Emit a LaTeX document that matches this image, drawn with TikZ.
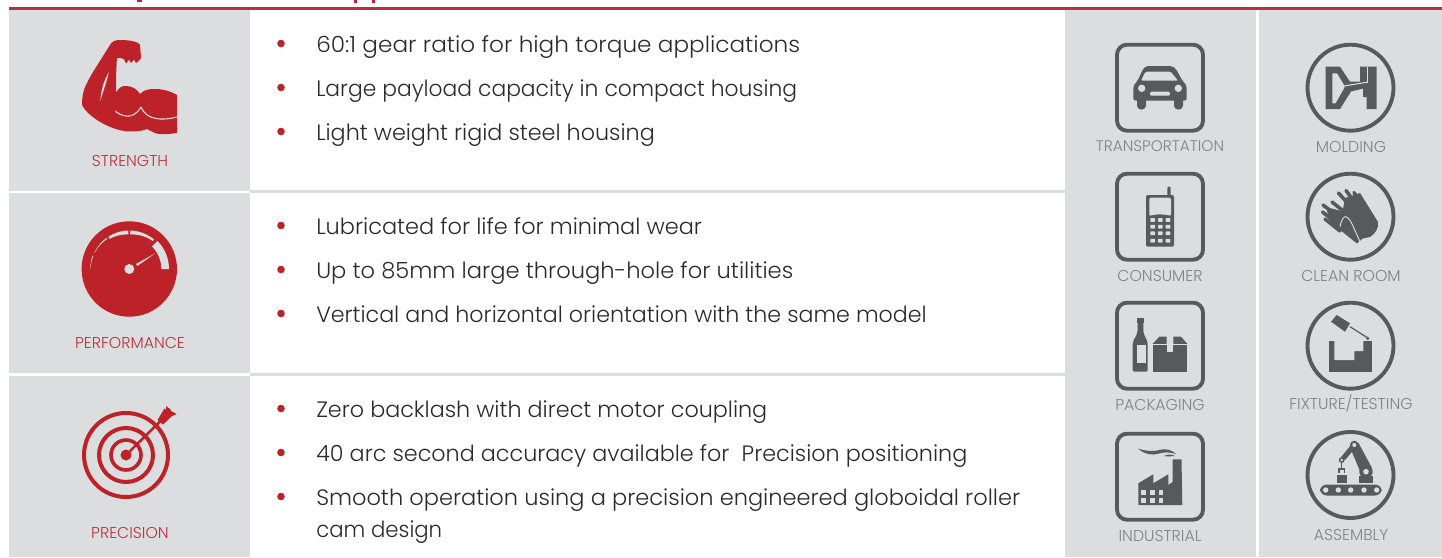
\documentclass[tikz,border=0pt]{standalone}
\usepackage{fontspec}
\usepackage{graphicx}
\setmainfont{Poppins Light}
\definecolor{panel}{HTML}{DCDDDE}
\definecolor{redm}{HTML}{BC2228}
\definecolor{redl}{HTML}{B8323A}
\definecolor{icon}{HTML}{58595B}
\definecolor{cap}{HTML}{808285}
\definecolor{body}{HTML}{2B2A2B}
\definecolor{rule}{HTML}{DCDDDE}
\tikzset{
 x=0.75pt,y=-0.75pt,
 panelbox/.style={fill=panel,draw=none},
 bodytext/.style={anchor=base west,inner sep=0pt,text=body,font=\fontsize{16.7}{20}\selectfont},
 redcap/.style={text=redl,font=\fontsize{11.8}{14}\selectfont,inner sep=0pt},
 graycap/.style={text=cap,font=\fontsize{11.8}{14}\selectfont,inner sep=0pt},
 icoline/.style={draw=icon,line width=2.9pt,fill=none},
 finger/.style={draw=icon,line width=2.7pt,line cap=round},
}
% bullet row: y centre, name, horizontal fit, text
\newcommand{\blt}[4]{%
 \fill[redm] (281,#1-1.5) circle (3.8);
 \node[bodytext] (#2) at (316,#1+7.6) {\scalebox{#3}[1]{#4}};}
% gauge band: from angle, to angle, outer r, inner r at start, inner r at end
\newcommand{\gband}[5]{%
 \fill plot[domain=#1:#2,samples=14] (-\x:#3) -- plot[domain=#2:#1,samples=14] (-\x:{#4+(#5-#4)*(\x-#1)/(#2-#1)}) -- cycle;}
\begin{document}
\begin{tikzpicture}
\useasboundingbox (0,0) rectangle (1442,557);
\fill[white] (0,0) rectangle (1442,557);
% panels
\fill[panelbox] (9,10) rectangle (250,190.5);
\fill[panelbox] (9,192.5) rectangle (250,373);
\fill[panelbox] (9,375.5) rectangle (250,557);
\fill[panelbox] (1065,10) rectangle (1255.5,557);
\fill[panelbox] (1258.5,10) rectangle (1442,557);
\fill[rule] (250,190) rectangle (1065,192.5);
\fill[rule] (250,373) rectangle (1065,375.5);
\fill[redl] (9,7) rectangle (1442,10);
% clipped title remnants
\fill[redm] (137,0) rectangle (142,1.5);
\fill[redm] (353.5,0) rectangle (356.5,3);
\fill[redm] (371.5,0) rectangle (374.5,3);
% bullets
\blt{45}{a1}{1.04}{60:1 gear ratio for high torque applications}
\blt{89}{a2}{0.98}{Large payload capacity in compact housing}
\blt{133}{a3}{1.0}{Light weight rigid steel housing}
\blt{227}{b1}{1.007}{Lubricated for life for minimal wear}
\blt{271}{b2}{1.014}{Up to 85mm large through-hole for utilities}
\blt{315}{b3}{0.996}{Vertical and horizontal orientation with the same model}
\blt{410}{c1}{1.0}{Zero backlash with direct motor coupling}
\blt{454}{c2}{1.0}{40 arc second accuracy available for\ \ Precision positioning}
\blt{498}{c3}{1.01}{Smooth operation using a precision engineered globoidal roller}
\node[bodytext] (c4) at (316,537.6) {\scalebox{0.954}[1]{cam design}};
% captions
\node[redcap] (l1) at (130,161) {STRENGTH};
\node[redcap] (l2) at (130,343) {PERFORMANCE};
\node[redcap] (l3) at (130,532.5) {PRECISION};
\node[graycap,font=\fontsize{11.5}{14}\selectfont] (r1) at (1160,146.5) {TRANSPORTATION};
\node[graycap] (r2) at (1160,275.5) {CONSUMER};
\node[graycap] (r3) at (1160,404.5) {PACKAGING};
\node[graycap] (r4) at (1160,535.5) {INDUSTRIAL};
\node[graycap] (s1) at (1351,146.5) {MOLDING};
\node[graycap] (s2) at (1351,275.5) {CLEAN ROOM};
\node[graycap] (s3) at (1351,403.5) {FIXTURE/TESTING};
\node[graycap] (s4) at (1351,534.5) {ASSEMBLY};
% strength arm
\fill[redm] (110,45) .. controls (112,41) and (116,40) .. (120,40)
 .. controls (127,40) and (138,41) .. (140,45) -- (141,58)
 -- (138.5,61) -- (136,63) -- (134,59.5) -- (131,63) -- (129,59.5) -- (126,63.5) -- (124,59) -- (120.5,58) -- (117,58)
 .. controls (116,70) and (116,82) .. (116,93)
 .. controls (119,87) and (122,86) .. (126,86)
 .. controls (132,86) and (137,89) .. (140,94)
 .. controls (144,90) and (148,89) .. (155,89)
 .. controls (163,89) and (170,91) .. (177,95)
 -- (177,133) .. controls (170,134) and (160,135) .. (155,133)
 .. controls (152,132) and (150,130) .. (147,129)
 .. controls (140,132) and (125,133) .. (113,128)
 .. controls (105,125) and (100,122) .. (97,120)
 .. controls (90,115) and (85,111) .. (82,105)
 .. controls (82,98) and (83,92) .. (85,87)
 .. controls (88,81) and (90,77) .. (93,72) -- cycle;
\fill[panel] (109,72) .. controls (104,80) and (101,90) .. (100.3,101) .. controls (103,92) and (106,84) .. (109,72) -- cycle;
\draw[panel,line width=.8pt] (115,111) .. controls (121,116) and (133,121) .. (141,107);
\draw[panel,line width=.8pt] (141,107) .. controls (146,120) and (162,121) .. (177,117);
% gauge
\fill[redm] (129.3,269) circle (47.7);
\begin{scope}[fill=panel,shift={(129.3,269)}]
\fill[panel] (0,0) circle (5);
\fill[panel] (6.7,-5) -- (26,-15.7) -- (8,-3) -- cycle;
\begin{scope}[panel]
\gband{0}{45}{39.7}{32}{32}
\gband{50}{88.5}{38.5}{36.5}{34.5}
\gband{91.5}{123}{38.5}{34.5}{36}
\gband{126}{155}{38.5}{37.3}{38.2}
\gband{160}{180}{39}{38.2}{38.8}
\end{scope}
\end{scope}
% target
\draw[redm,line width=3pt] (126,455) circle (42);
\draw[redm,line width=3pt] (126,455) circle (27);
\draw[redm,line width=2.7pt] (126,455) circle (15);
\fill[redm] (126,455) circle (5.5);
\draw[redm,line width=1.9pt] (126,455) -- (160,421.5);
\fill[redm] (157.5,420) -- (164.5,408.5) -- (165.5,410) -- (166.7,405.7) -- (168,408) -- (170,408.5) -- (171,411) -- (176.7,414) -- (172,416) -- (163,424.5) -- cycle;
% rounded squares
\foreach \y in {87.7,216.7,345.7,476.7}{
 \draw[icoline,rounded corners=7.5pt] (1117,\y-43) rectangle (1203,\y+43);}
% circles
\foreach \y in {87.7,216.7,345.7,475}{
 \draw[icoline] (1350.5,\y) circle (43);}
% car
\fill[icon,rounded corners=3pt] (1137,96) rectangle (1146,109.5);
\fill[icon,rounded corners=3pt] (1174,96) rectangle (1183,109.5);
\fill[icon,rounded corners=1.5pt] (1133.3,100.5) -- (1133.3,86) -- (1138,80) -- (1143,69) -- (1146,66) -- (1172,66) -- (1176,69) -- (1182,80) -- (1186.7,86) -- (1186.7,100.5) -- cycle;
\fill[panel,rounded corners=1pt] (1141,80.7) -- (1145.5,71.7) -- (1170.7,71.7) -- (1178,80.7) -- cycle;
\fill[panel] (1141.7,88.3) circle (3.7);
\fill[panel] (1178.3,88.3) circle (3.7);
\fill[panel,rounded corners=1pt] (1150,91.7) rectangle (1170,95.7);
% phone
\fill[icon,rounded corners=1.5pt] (1146,195) rectangle (1174,246.7);
\fill[icon,rounded corners=.8pt] (1167.3,186.7) rectangle (1170.7,197);
\fill[panel,rounded corners=1pt] (1149.3,197.7) -- (1171,197.7) -- (1171,216) .. controls (1165,214) and (1155,214) .. (1149.3,216) -- cycle;
\foreach \yy in {220,226.7,233.3,240.7}{\foreach \xx in {1152.7,1160.3,1168}{
 \fill[panel,rounded corners=.5pt] (\xx-2.3,\yy-1.9) rectangle (\xx+2.3,\yy+1.9);}}
% bottle and box
\fill[icon] (1136.7,318.3) rectangle (1144.3,323.3);
\fill[icon,rounded corners=1.5pt] (1137.5,321) -- (1143.3,321) -- (1143.3,333) -- (1147.7,342) -- (1147.7,371.7) -- (1132.7,371.7) -- (1132.7,342) -- (1137.5,333) -- cycle;
\fill[panel] (1137.3,345) rectangle (1146,362.7);
\fill[icon] (1152.7,344.7) rectangle (1187.3,371.7);
\fill[icon] (1159.3,336.7) -- (1166.7,336.7) -- (1166.7,343.8) -- (1152.7,343.8) -- cycle;
\fill[icon] (1173.3,336.7) -- (1181,336.7) -- (1187.3,343.8) -- (1173.3,343.8) -- cycle;
\fill[panel] (1166.7,336.7) rectangle (1173.3,352.3);
% factory
\fill[icon] (1138.3,505) -- (1138.3,483.3) -- (1153.3,474.3) -- (1153.3,483.3) -- (1168.3,474.3) -- (1168.3,485) -- (1172.5,482) -- (1172.7,459.3) -- (1181.5,459.3) -- (1182.3,505) -- cycle;
\foreach \yy in {492.7,500.7}{\foreach \xx in {1143.3,1152.3,1161}{
 \fill[panel] (\xx-2.4,\yy-2.4) rectangle (\xx+2.4,\yy+2.4);}}
\fill[icon] (1138,448.5) .. controls (1145,451) and (1153,452) .. (1159,450) .. controls (1166,448) and (1172,450) .. (1176,454) .. controls (1170,452) and (1165,452) .. (1159,453.5) .. controls (1152,456) and (1144,454) .. (1138,448.5) -- cycle;
\fill[icon] (1164,456) .. controls (1168,454) and (1172,454) .. (1175,456) .. controls (1171,456) and (1168,457) .. (1164,456) -- cycle;
% molding
\fill[icon] (1325.7,66.7) -- (1340,66.7) -- (1350,81.7) -- (1360,81.7) -- (1360,66.7) -- (1376.7,66.7) -- (1376.7,109) -- (1366.7,109) -- (1366.7,97) -- (1363,97) -- (1363,88.5) -- (1351,91.5) -- (1340,109) -- (1325.7,109) -- cycle;
\fill[panel] (1332.3,73.3) -- (1337,73.3) -- (1344,85) -- (1344.5,87.5) -- (1335.5,103.3) -- (1332.3,103.3) -- cycle;
\fill[panel] (1367,66.7) rectangle (1368.2,82.5);
\draw[panel,line width=.8pt] (1344,86) -- (1368,82);
% gloves
\fill[icon] (1345,198) -- (1360,193) -- (1378,222) .. controls (1379,228) and (1375,234) .. (1370,237) -- (1356,240) -- (1340,226) -- cycle;
\fill[icon] (1326,207) -- (1345,212) -- (1352,222) -- (1363,238) -- (1357,243.5) -- (1330,222) -- cycle;
\draw[finger] (1338.5,193) -- (1352,208);
\draw[finger] (1346,190.5) -- (1358,207);
\draw[finger] (1354,192.5) -- (1364,208);
\draw[finger] (1323,205) -- (1340,218);
\draw[finger] (1322.5,212) -- (1338,224);
\draw[finger] (1325,219) -- (1340,231);
\draw[finger] (1332,202) -- (1347,214);
\draw[panel,line width=.7pt] (1340,226.7) .. controls (1341,220) and (1344,216) .. (1346,216.7) .. controls (1350,218) and (1352,224) .. (1360,241.7);
% fixture
\fill[icon] (1329.3,340.7) rectangle (1372.3,372.3);
\fill[panel] (1334.3,340.7) -- (1334.3,360) -- (1354.3,360) -- (1354.3,351) -- (1363.3,351) -- (1363.3,340.7) -- cycle;
\fill[icon] (1331,321.7) -- (1336.7,315) -- (1350,323.3) -- (1345,331.7) -- cycle;
\draw[icon,line width=.9pt] (1350,326.7) -- (1366.7,337.3);
\fill[icon] (1367.7,338.3) circle (1.8);
% assembly
\fill[icon,rounded corners=5pt] (1320,484.5) rectangle (1381.7,495.5);
\foreach \xx in {1325.7,1338.3,1350.7,1364,1376.7}{\fill[panel] (\xx,490) circle (2.7);}
\fill[icon] (1337.3,475) rectangle (1346.7,482.7);
\fill[icon] (1359.3,476) -- (1373.3,476) -- (1373.3,482.7) -- (1359.3,482.7) -- cycle;
\fill[icon] (1360,471) -- (1349.8,447) -- (1358.5,443) -- (1372,468) -- cycle;
\draw[icon,line width=3.8pt] (1354.3,445) -- (1343.3,458.3);
\fill[icon] (1366,471.7) circle (6.7);
\fill[panel] (1366,471.7) circle (2.8);
\fill[icon] (1354.3,445) circle (4.3);
\fill[panel] (1354.3,445) circle (2);
\fill[icon] (1341.7,460) circle (2.9);
\fill[panel] (1341.7,460) circle (1.4);
\draw[icon,line width=1pt] (1341.7,462) -- (1341.7,468);
\draw[icon,line width=1pt] (1339,473) -- (1339,469) -- (1344.5,469) -- (1344.5,473);
\end{tikzpicture}
\end{document}
